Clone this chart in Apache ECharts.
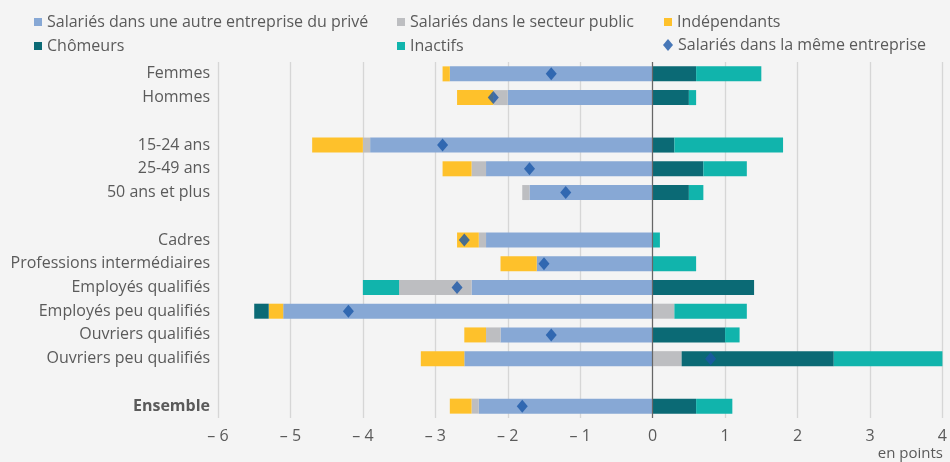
<!DOCTYPE html>
<html>
<head>
<meta charset="utf-8">
<script src="https://cdn.jsdelivr.net/npm/echarts@6/dist/echarts.min.js"></script>
<style>
  html, body { margin: 0; padding: 0; background: #f4f4f4; }
  #chart { width: 950px; height: 462px; }
</style>
</head>
<body>
<div id="chart"></div>
<script>
// categories, top to bottom (blank rows are the gaps between groups)
const categories = ['Femmes', 'Hommes', ' ', '15-24 ans', '25-49 ans', '50 ans et plus', '  ',
  'Cadres', 'Professions intermédiaires', 'Employés qualifiés', 'Employés peu qualifiés',
  'Ouvriers qualifiés', 'Ouvriers peu qualifiés', '   ', 'Ensemble'];

// en points
const autrePrive   = [-2.8, -2.0, null, -3.9, -2.3, -1.7, null, -2.3, -1.6, -2.5, -5.1, -2.1, -2.6, null, -2.4];
const secteurPublic = [0, -0.2, null, -0.1, -0.2, -0.1, null, -0.1, 0, -1.0, 0.3, -0.2, 0.4, null, -0.1];
const independants = [-0.1, -0.5, null, -0.7, -0.4, 0, null, -0.3, -0.5, 0, -0.2, -0.3, -0.6, null, -0.3];
const chomeurs     = [0.6, 0.5, null, 0.3, 0.7, 0.5, null, 0, 0, 1.4, -0.2, 1.0, 2.1, null, 0.6];
const inactifs     = [0.9, 0.1, null, 1.5, 0.6, 0.2, null, 0.1, 0.6, -0.5, 1.0, 0.2, 1.5, null, 0.5];
const memeEntreprise = [-1.4, -2.2, null, -2.9, -1.7, -1.2, null, -2.6, -1.5, -2.7, -4.2, -1.4, 0.8, null, -1.8];

const xTicks = { min: -6, max: 4, interval: 1 };

const names = ['Salariés dans une autre entreprise du privé', 'Salariés dans le secteur public',
  'Indépendants', 'Chômeurs', 'Inactifs', 'Salariés dans la même entreprise'];
const colors = ['#87a8d5', '#bdbec1', '#fec12b', '#0b6a75', '#11b4ac', '#1b58a8'];

const chart = echarts.init(document.getElementById('chart'));
const font = '"Open Sans", sans-serif';
const txt = '#5a5a5a';

function bar(i, data) {
  return {
    name: names[i],
    type: 'bar',
    stack: 'total',
    barWidth: 15,
    data: data,
    itemStyle: { color: colors[i] }
  };
}

const leg = (name, left, top, icon) => ({
  data: [{ name: name, icon: icon || 'rect' }],
  left: left, top: top,
  itemWidth: icon ? 10 : 8, itemHeight: icon ? 12 : 8,
  itemGap: 0,
  textStyle: { color: txt, fontSize: 16, fontFamily: font },
  selectedMode: false
});

const blue = bar(0, autrePrive);
blue.markLine = {
  silent: true,
  symbol: 'none',
  label: { show: false },
  lineStyle: { color: '#666', width: 1.2, type: 'solid' },
  data: [{ xAxis: 0 }]
};

const option = {
  backgroundColor: '#f4f4f4',
  animation: false,
  textStyle: { fontFamily: font },
  legend: [
    leg(names[0], 29, 9),
    leg(names[1], 392, 9),
    leg(names[2], 659, 9),
    leg(names[3], 29, 33),
    leg(names[4], 392, 33),
    leg(names[5], 658, 32, 'diamond')
  ],
  grid: { left: 218, right: 7, top: 62, bottom: 44, containLabel: false },
  xAxis: {
    type: 'value',
    min: xTicks.min, max: xTicks.max, interval: xTicks.interval,
    axisLine: { show: false },
    axisTick: { show: false },
    splitLine: { lineStyle: { color: '#d6d6d6', width: 1.3 } },
    axisLabel: {
      color: txt, fontSize: 16, fontFamily: font, margin: 10,
      formatter: v => v < 0 ? '\u2013 ' + Math.abs(v) : String(v)
    }
  },
  yAxis: {
    type: 'category',
    inverse: true,
    data: categories,
    axisLine: { show: false },
    axisTick: { show: false },
    axisLabel: {
      color: txt, fontSize: 16, fontFamily: font, margin: 8,
      formatter: v => v === 'Ensemble' ? '{b|' + v + '}' : v,
      rich: { b: { fontWeight: 'bold', color: txt, fontSize: 16, fontFamily: font } }
    }
  },
  series: [
    blue,
    bar(1, secteurPublic),
    bar(2, independants),
    bar(3, chomeurs),
    bar(4, inactifs),
    {
      name: names[5],
      type: 'scatter',
      symbol: 'diamond',
      symbolSize: [11, 13],
      z: 5,
      itemStyle: { color: colors[5] },
      data: memeEntreprise.map((v, i) => v === null ? null : [v, i])
    }
  ],
  graphic: [{
    type: 'text',
    right: 7, top: 446,
    style: { text: 'en points', fill: txt, font: '15px ' + font, textAlign: 'right' }
  }]
};
chart.setOption(option);
</script>
</body>
</html>
